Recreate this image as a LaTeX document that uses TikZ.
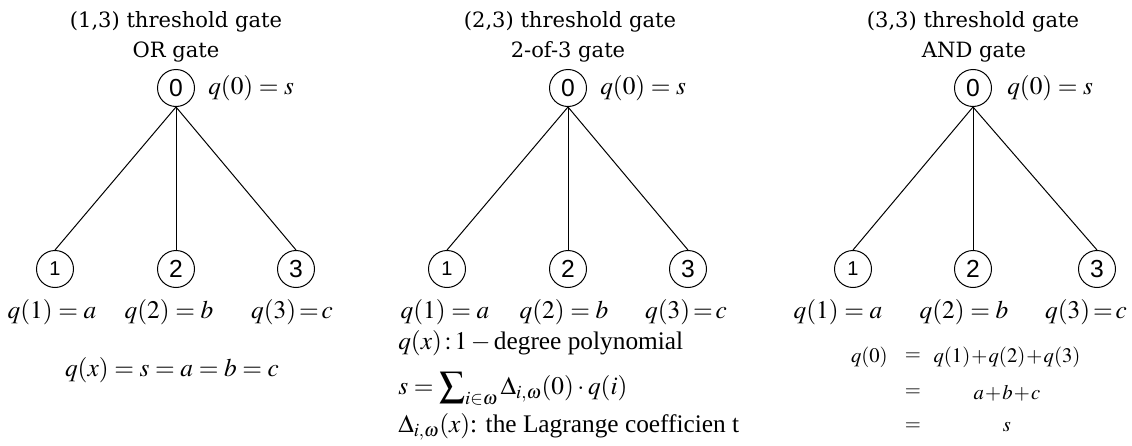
\documentclass[tikz,border=0pt]{standalone}
\usepackage{mathptmx}
\usepackage{fontspec}
\setmainfont{Liberation Serif}
\newfontfamily\titlefont{DejaVu Serif}
\newfontfamily\digitfont{Liberation Sans}
\begin{document}
\begin{tikzpicture}[x=0.75pt,y=-0.75pt,
  gnode/.style={draw, circle, line width=0.75pt, minimum size=27.75pt, inner sep=0pt, font=\digitfont\fontsize{18.5}{18.5}\selectfont},
  gsmall/.style={gnode, font=\digitfont\fontsize{15}{15}\selectfont},
  ttl/.style={font=\titlefont\fontsize{15.8}{18}\selectfont, inner sep=0pt, anchor=base},
  lbl/.style={font=\fontsize{19}{23}\selectfont, inner sep=0pt},
  eqn/.style={font=\fontsize{15.5}{19}\selectfont, inner sep=0pt},
  edge/.style={line width=0.75pt}]
\useasboundingbox (0,0) rectangle (1132,446);

% ---------- panel 1 ----------
\node[ttl] (t1a) at (176,27) {(1,3) threshold gate};
\node[ttl] (t1b) at (176,57) {OR gate};
\node[gnode] (a0) at (176,88) {0};
\node[lbl, anchor=west] (a0l) at (208,88) {$q(0)=s$};
\node[gsmall] (a1) at (55,269) {1};
\node[gnode] (a2) at (176,269) {2};
\node[gnode] (a3) at (296,269) {3};
\draw[edge] (a0.south) -- (a1.north);
\draw[edge] (a0.south) -- (a2.north);
\draw[edge] (a0.south) -- (a3.north);
\node[lbl] (a1l) at (52,312) {$q(1)=a$};
\node[lbl] (a2l) at (169,312) {$q(2)=b$};
\node[lbl] (a3l) at (292,312) {$q(3)\!=\!c$};
\node[lbl] (aeq) at (172,370) {$q(x)=s=a=b=c$};

% ---------- panel 2 ----------
\node[ttl] (t2a) at (570,27) {(2,3) threshold gate};
\node[ttl] (t2b) at (568,57) {2-of-3 gate};
\node[gnode] (b0) at (568,88) {0};
\node[lbl, anchor=west] (b0l) at (600,88) {$q(0)=s$};
\node[gsmall] (b1) at (447,269) {1};
\node[gnode] (b2) at (568,269) {2};
\node[gnode] (b3) at (688,269) {3};
\draw[edge] (b0.south) -- (b1.north);
\draw[edge] (b0.south) -- (b2.north);
\draw[edge] (b0.south) -- (b3.north);
\node[lbl] (b1l) at (445,312) {$q(1)=a$};
\node[lbl] (b2l) at (564,312) {$q(2)=b$};
\node[lbl] (b3l) at (686,312) {$q(3)\!=\!c$};
\node[lbl, anchor=west] (bl1) at (398,343) {$q(x)\!:\!1-{}$degree polynomial};
\node[lbl, anchor=west] (bl2) at (398,389) {$s=\displaystyle\sum\nolimits_{i\in\omega}\Delta_{i,\omega}(0)\cdot q(i)$};
\node[lbl, anchor=west] (bl3) at (398,427) {$\Delta_{i,\omega}(x)$: the Lagrange coefficien t};

% ---------- panel 3 ----------
\node[ttl] (t3a) at (973,27) {(3,3) threshold gate};
\node[ttl] (t3b) at (974,57) {AND gate};
\node[gnode] (c0) at (973,88) {0};
\node[lbl, anchor=west] (c0l) at (1007,88) {$q(0)=s$};
\node[gsmall] (c1) at (853,269) {1};
\node[gnode] (c2) at (973,269) {2};
\node[gnode] (c3) at (1097,269) {3};
\draw[edge] (c0.south) -- (c1.north);
\draw[edge] (c0.south) -- (c2.north);
\draw[edge] (c0.south) -- (c3.north);
\node[lbl] (c1l) at (838,312) {$q(1)=a$};
\node[lbl] (c2l) at (964,312) {$q(2)=b$};
\node[lbl] (c3l) at (1086,312) {$q(3)\!=\!c$};
\node[eqn, anchor=east] (r1a) at (888,357) {$q(0)$};
\node[eqn] (r1b) at (913,357) {$=$};
\node[eqn] (r1c) at (1007,357) {$\medmuskip=1mu q(1)+q(2)+q(3)$};
\node[eqn] (r2b) at (913,393) {$=$};
\node[eqn] (r2c) at (1007,393) {$\medmuskip=1mu a+b+c$};
\node[eqn] (r3b) at (913,427) {$=$};
\node[eqn] (r3c) at (1007,427) {$s$};
\end{tikzpicture}
\end{document}
